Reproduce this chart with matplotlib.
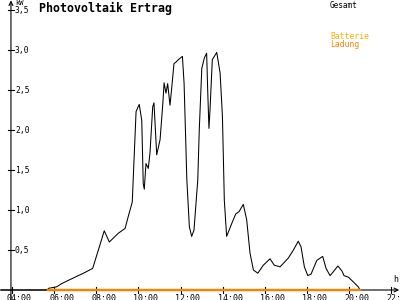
import matplotlib
matplotlib.use("Agg")
import matplotlib.pyplot as plt

# time of day (hours) and PV output (kW)
hours = [3.5, 5.71, 5.72, 6.12, 6.36, 6.67, 6.99, 7.39, 7.83, 8.10, 8.38, 8.62, 9.05, 9.37, 9.52,
         9.71, 9.76, 9.89, 10.04, 10.16, 10.23, 10.28, 10.36, 10.47, 10.55, 10.68, 10.74,
         10.87, 11.03, 11.16, 11.22, 11.31, 11.39, 11.50, 11.58, 11.69, 11.79, 11.90, 12.09,
         12.17, 12.30, 12.42, 12.53, 12.64, 12.82, 12.89, 13.01, 13.13, 13.24, 13.29, 13.35,
         13.40, 13.51, 13.72, 13.88, 13.99, 14.08, 14.19, 14.43, 14.62, 14.78, 14.98, 15.14,
         15.30, 15.46, 15.67, 15.93, 16.25, 16.45, 16.73, 17.12, 17.36, 17.59, 17.72, 17.88,
         18.04, 18.20, 18.47, 18.75, 18.91, 19.10, 19.26, 19.47, 19.66, 19.76, 19.97, 20.21,
         20.44, 20.52]
gesamt = [0.0, 0.0, 0.02, 0.04, 0.08, 0.12, 0.16, 0.21, 0.27, 0.50, 0.74, 0.60, 0.71, 0.77, 0.92,
          1.10, 1.42, 2.23, 2.32, 2.12, 1.33, 1.26, 1.58, 1.52, 1.71, 2.29, 2.34,
          1.69, 1.88, 2.33, 2.59, 2.46, 2.58, 2.31, 2.52, 2.83, 2.85, 2.88, 2.92,
          2.58, 1.38, 0.79, 0.67, 0.75, 1.38, 2.00, 2.77, 2.90, 2.96, 2.50, 2.02,
          2.25, 2.88, 2.97, 2.71, 2.17, 1.12, 0.67, 0.83, 0.95, 0.98, 1.07, 0.88,
          0.46, 0.25, 0.21, 0.31, 0.39, 0.31, 0.29, 0.40, 0.50, 0.61, 0.54, 0.29,
          0.18, 0.20, 0.37, 0.42, 0.27, 0.18, 0.23, 0.30, 0.24, 0.18, 0.16, 0.10,
          0.04, 0.0]
batt_hours = [5.71, 20.52]
batterie = [0.0, 0.0]
ladung = [0.0, 0.0]

y_ticks = [0.5, 1.0, 1.5, 2.0, 2.5, 3.0, 3.5]
y_labels = ["0,5", "1,0", "1,5", "2,0", "2,5", "3,0", "3,5"]
x_ticks = [4, 6, 8, 10, 12, 14, 16, 18, 20, 22]
x_labels = ["04:00", "06:00", "08:00", "10:00", "12:00", "14:00", "16:00", "18:00", "20:00", "22:00"]

fig = plt.figure(figsize=(4, 3), dpi=100)
ax = fig.add_axes([0, 0, 1, 1])
ax.set_xlim(3.43, 22.42)
ax.set_ylim(-0.125, 3.625)
ax.axis("off")

mono = "DejaVu Sans Mono"
xaxis_x = 3.95

# axes lines
ax.annotate("", xy=(22.38, 0), xytext=(3.43, 0),
            arrowprops=dict(arrowstyle="->", color="black", lw=0.8, shrinkA=0, shrinkB=0,
                            mutation_scale=7))
ax.annotate("", xy=(xaxis_x, 3.62), xytext=(xaxis_x, -0.125),
            arrowprops=dict(arrowstyle="->", color="black", lw=0.8, shrinkA=0, shrinkB=0,
                            mutation_scale=7))

# ticks
for t, lab in zip(y_ticks, y_labels):
    ax.plot([3.81, 4.10], [t, t], color="black", lw=0.8)
    ax.text(4.14, t, lab, fontsize=5.8, family=mono, ha="left", va="center")
for t, lab in zip(x_ticks, x_labels):
    ax.plot([t, t], [-0.035, 0.035], color="black", lw=0.8)
    ax.text(t - 0.24, -0.045, lab, fontsize=6, family=mono, ha="left", va="top")

ax.text(4.14, 3.585, "kW", fontsize=5, family=mono, ha="left", va="center")
ax.text(22.1, 0.08, "h", fontsize=6, family=mono, ha="left", va="bottom")

# series
ax.plot(hours, gesamt, color="black", lw=0.75, zorder=3)
ax.plot(batt_hours, batterie, color="#ffb000", lw=1.6, zorder=4)
ax.plot(batt_hours, ladung, color="#ff8000", lw=1.6, zorder=5)

# title & legend
fig.text(39 / 400, 1 - 2 / 300, "Photovoltaik Ertrag", fontsize=8.4, family=mono,
         fontweight="bold", ha="left", va="top")
fig.text(330 / 400, 1 - 1 / 300, "Gesamt", fontsize=5.6, family=mono, ha="left", va="top",
         color="black")
fig.text(330 / 400, 1 - 32 / 300, "Batterie", fontsize=5.8, family=mono, ha="left", va="top",
         color="#ffb000")
fig.text(330 / 400, 1 - 40 / 300, "Ladung", fontsize=5.8, family=mono, ha="left", va="top",
         color="#ff8000")

fig.savefig("out.png", dpi=100, facecolor="white")
